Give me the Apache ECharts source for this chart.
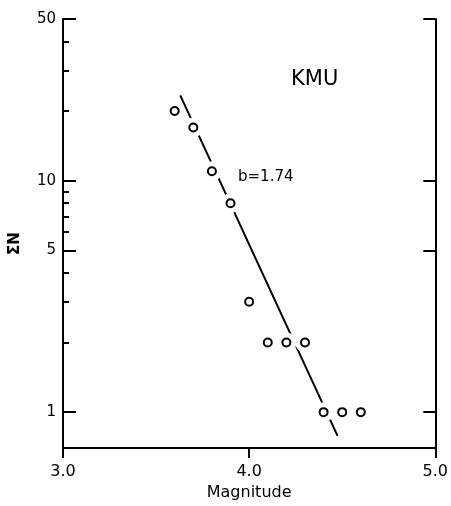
<!DOCTYPE html>
<html>
<head>
<meta charset="utf-8">
<script src="https://cdn.jsdelivr.net/npm/echarts@6/dist/echarts.min.js"></script>
<style>
  html, body { margin: 0; padding: 0; background: #fff; }
  #chart { width: 451px; height: 506px; }
</style>
</head>
<body>
<div id="chart"></div>
<script>
// Cumulative number of events (ΣN) against magnitude, station KMU
const magnitudes = [3.6, 3.7, 3.8, 3.9, 4.0, 4.1, 4.2, 4.3, 4.4, 4.5, 4.6];
const cumulativeN = [20, 17, 11, 8, 3, 2, 2, 2, 1, 1, 1];

// Fitted Gutenberg-Richter line end points
const fitMagnitudes = [3.63, 4.475];
const fitN = [23.4, 0.79];
const bValue = 1.74;

// Axis ticks
const xTicks = [3, 4, 5];
const yMajorTicks = [1, 5, 10, 50];
const yMinorTicks = [2, 3, 4, 6, 7, 8, 9, 20, 30, 40];

const stationName = 'KMU';

const FONT = 'DejaVu Sans';
const pairs = (xs, ys) => xs.map((x, i) => [x, ys[i]]);

const chart = echarts.init(document.getElementById('chart'), null, { renderer: 'canvas' });

const yBase = {
  type: 'log',
  logBase: 10,
  min: 0.7,
  max: 50,
  splitLine: { show: false },
  minorTick: { show: false },
  minorSplitLine: { show: false }
};

chart.setOption({
  animation: false,
  backgroundColor: '#ffffff',
  grid: { left: 62, right: 13, top: 19, bottom: 53 },
  xAxis: {
    type: 'value',
    min: 3,
    max: 5,
    interval: 1,
    name: 'Magnitude',
    nameLocation: 'middle',
    nameGap: 37,
    nameTextStyle: { fontFamily: FONT, fontSize: 16, color: '#000' },
    axisLine: { show: true, onZero: false, lineStyle: { color: '#000', width: 2 } },
    axisTick: { show: true, inside: false, length: 10, lineStyle: { color: '#000', width: 2 }, customValues: xTicks },
    axisLabel: {
      margin: 16, fontFamily: FONT, fontSize: 16, color: '#000',
      customValues: xTicks,
      formatter: v => v.toFixed(1)
    },
    splitLine: { show: false }
  },
  yAxis: [
    Object.assign({}, yBase, {
      position: 'left',
      name: 'ΣN',
      nameLocation: 'middle',
      nameRotate: 90,
      nameGap: 40,
      nameTextStyle: { fontFamily: FONT, fontSize: 15, fontWeight: 'bold', color: '#000', padding: [0, 20, 0, 0] },
      axisLine: { show: true, lineStyle: { color: '#000', width: 2 } },
      axisTick: { show: true, inside: true, length: 13, lineStyle: { color: '#000', width: 2 }, customValues: yMajorTicks },
      axisLabel: { show: true, margin: 7, fontFamily: FONT, fontSize: 15, color: '#000', customValues: yMajorTicks, formatter: v => String(Math.round(v)) }
    }),
    Object.assign({}, yBase, {
      position: 'left',
      axisLine: { show: false },
      axisTick: { show: true, inside: true, length: 6, lineStyle: { color: '#000', width: 2 }, customValues: yMinorTicks },
      axisLabel: { show: false, customValues: yMinorTicks }
    }),
    Object.assign({}, yBase, {
      position: 'right',
      axisLine: { show: true, lineStyle: { color: '#000', width: 2 } },
      axisTick: { show: true, inside: true, length: 12, lineStyle: { color: '#000', width: 2 }, customValues: yMajorTicks },
      axisLabel: { show: false, customValues: yMajorTicks }
    })
  ],
  graphic: [
    {
      type: 'text', left: 291, top: 69, silent: true,
      style: { text: stationName, font: '21px "DejaVu Sans"', fill: '#000' }
    },
    {
      type: 'text', left: 238, top: 170, silent: true,
      style: { text: 'b=' + bValue.toFixed(2), font: '15px "DejaVu Sans"', fill: '#000' }
    }
  ],
  series: [
    {
      name: 'fit',
      type: 'line',
      data: pairs(fitMagnitudes, fitN),
      showSymbol: false,
      symbol: 'none',
      silent: true,
      lineStyle: { color: '#000', width: 2 },
      z: 2
    },
    {
      // white clearing round each point so the fitted line breaks there
      name: 'clear',
      type: 'scatter',
      data: pairs(magnitudes, cumulativeN),
      symbol: 'circle',
      symbolSize: 20,
      silent: true,
      itemStyle: { color: '#fff', borderWidth: 0, opacity: 1 },
      z: 3
    },
    {
      name: 'ΣN',
      type: 'scatter',
      data: pairs(magnitudes, cumulativeN),
      symbol: 'circle',
      symbolSize: 8,
      silent: true,
      itemStyle: { color: '#fff', borderColor: '#000', borderWidth: 2, opacity: 1 },
      z: 4
    }
  ]
});
</script>
</body>
</html>
